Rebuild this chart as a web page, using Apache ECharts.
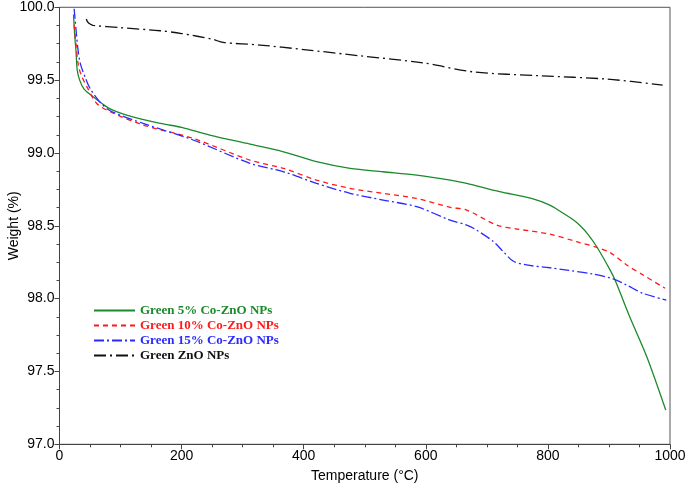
<!DOCTYPE html>
<html>
<head>
<meta charset="utf-8">
<script src="https://cdn.jsdelivr.net/npm/echarts@6/dist/echarts.min.js"></script>
<style>
html,body{margin:0;padding:0;background:#fff;}
#c{width:685px;height:487px;}
</style>
</head>
<body>
<div id="c"></div>
<script>
const seriesNames = ['Green 5% Co-ZnO NPs','Green 10% Co-ZnO NPs','Green 15% Co-ZnO NPs','Green ZnO NPs'];
const green5 = [[23,99.95],[25,99.8],[27,99.7],[29,99.57],[33,99.5],[40,99.44],[55,99.386],[80,99.31],[110,99.26],[165,99.203],[200,99.176],[246,99.123],[312,99.061],[367,99.008],[421,98.94],[476,98.894],[530,98.871],[585,98.848],[640,98.814],[667,98.791],[721,98.734],[773,98.688],[803,98.642],[820,98.60],[842,98.54],[853,98.50],[866,98.44],[880,98.356],[902,98.196],[910,98.128],[934,97.876],[962,97.601],[993,97.235]];
const green10 = [[24,99.88],[27,99.75],[31,99.60],[37,99.52],[45,99.454],[61,99.34],[83,99.283],[137,99.192],[219,99.10],[312,98.951],[367,98.894],[421,98.814],[476,98.757],[530,98.723],[585,98.688],[640,98.627],[667,98.608],[716,98.505],[749,98.478],[803,98.443],[847,98.391],[880,98.352],[902,98.316],[929,98.231],[956,98.162],[992,98.071]];
const green15 = [[24,99.99],[27,99.85],[30,99.72],[34,99.615],[42,99.52],[50,99.443],[66,99.351],[83,99.29],[137,99.203],[219,99.089],[312,98.929],[367,98.871],[421,98.791],[476,98.723],[530,98.677],[585,98.631],[640,98.539],[667,98.505],[683,98.471],[711,98.391],[727,98.322],[743,98.258],[765,98.231],[803,98.212],[831,98.196],[874,98.169],[907,98.135],[929,98.093],[956,98.036],[994,97.99]];
const greenZnO = [[44,99.92],[46,99.90],[50,99.885],[55,99.876],[100,99.86],[165,99.839],[200,99.82],[251,99.78],[268,99.759],[328,99.741],[400,99.71],[492,99.667],[595,99.619],[677,99.557],[787,99.53],[897,99.507],[988,99.466]];
const xTicks = {min:0,max:1000,interval:200};
const yTicks = {min:97,max:100,interval:0.5};

const colors = ['#1a8a2a','#ff1a1a','#2a2aff','#111111'];
const dashes = ['solid',[5,4],[10,3,2,3],[12,4,2,4]];
const datas = [green5, green10, green15, greenZnO];

const chart = echarts.init(document.getElementById('c'));
chart.setOption({
  animation:false,
  backgroundColor:'#fff',
  grid:{left:59.5,right:15,top:7.3,bottom:42.7,show:true,borderColor:'#555',borderWidth:1,containLabel:false,outerBoundsMode:'none'},
  legend:{
    orient:'vertical',left:88,top:299,itemWidth:41,itemHeight:12,itemGap:2,
    itemStyle:{opacity:0},
    data:seriesNames.map((n,i)=>({name:n,textStyle:{color:colors[i]}})),
    textStyle:{fontFamily:'Liberation Serif',fontWeight:'bold',fontSize:13}
  },
  xAxis:{type:'value',min:xTicks.min,max:xTicks.max,interval:xTicks.interval,
    name:'Temperature (°C)',nameLocation:'middle',nameGap:25,nameMoveOverlap:false,
    nameTextStyle:{fontFamily:'Liberation Sans',fontSize:14,color:'#000'},
    axisLine:{lineStyle:{color:'#444'}},
    axisTick:{inside:false,length:5,lineStyle:{color:'#444'}},
    minorTick:{show:true,splitNumber:4,length:3,lineStyle:{color:'#444'}},
    splitLine:{show:false},
    axisLabel:{fontFamily:'Liberation Sans',fontSize:14,color:'#000',margin:5,formatter:v=>String(v)}},
  yAxis:{type:'value',min:yTicks.min,max:yTicks.max,interval:yTicks.interval,
    name:'Weight (%)',nameLocation:'middle',nameGap:38,nameMoveOverlap:false,
    nameTextStyle:{fontFamily:'Liberation Sans',fontSize:14,color:'#000'},
    axisLine:{show:true,lineStyle:{color:'#444'}},
    axisTick:{show:true,inside:false,length:5,lineStyle:{color:'#444'}},
    minorTick:{show:true,splitNumber:4,length:3,lineStyle:{color:'#444'}},
    splitLine:{show:false},
    axisLabel:{fontFamily:'Liberation Sans',fontSize:14,color:'#000',margin:5,formatter:v=>v.toFixed(1)}},
  series:seriesNames.map((n,i)=>({
    name:n,type:'line',data:datas[i],symbol:'none',showSymbol:false,smooth:0.3,
    itemStyle:{color:colors[i]},
    lineStyle:{color:colors[i],width:1.3,type:dashes[i]}
  }))
});
</script>
</body>
</html>
